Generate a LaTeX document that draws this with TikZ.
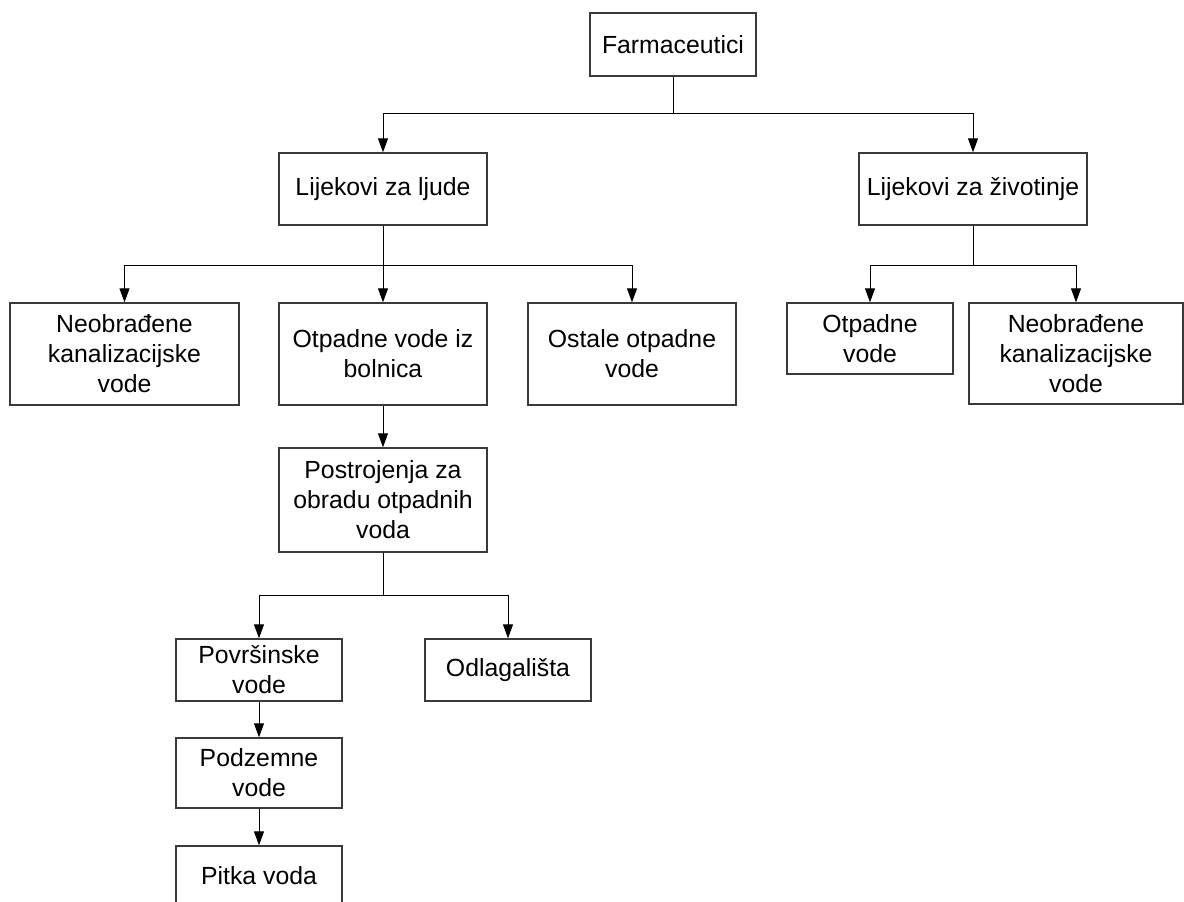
\documentclass[tikz,border=0pt]{standalone}
\usepackage{fontspec}
\setmainfont{Liberation Sans}
\usetikzlibrary{arrows.meta,positioning,calc}
\definecolor{fcInk}{HTML}{000000}
\definecolor{fcEdge}{HTML}{3A3A3A}
\tikzset{
  box/.style     ={draw=fcEdge,line width=0.7pt,fill=white,inner sep=0pt,
                   align=center,font=\fontsize{12.4pt}{15pt}\selectfont},
  flow/.style    ={-{Triangle[length=7pt,width=5pt]},fcInk,line width=0.5pt},
  tie/.style     ={fcInk,line width=0.5pt},
}
\begin{document}
\begin{tikzpicture}[x=0.5pt,y=-0.5pt]
\useasboundingbox (0,0) rectangle (1184,901);
\clip (0,0) rectangle (1184,901);

% top
\node[box,minimum width=83pt,minimum height=31.5pt] (farm) at (673,44.5) {Farmaceutici};
\node[box,minimum width=104pt,minimum height=36pt] (ljude) at (383,189) {Lijekovi za ljude};
\node[box,minimum width=114pt,minimum height=36pt] (zivot) at (973,189) {Lijekovi za životinje};

% second row
\node[box,minimum width=114.5pt,minimum height=51pt] (neoL) at (124.5,354) {Neobrađene\\kanalizacijske\\vode};
\node[box,minimum width=104pt,minimum height=51pt] (bolnica) at (383,354) {Otpadne vode iz\\bolnica};
\node[box,minimum width=104pt,minimum height=51pt] (ostale) at (632,354) {Ostale otpadne\\vode};
\node[box,minimum width=83pt,minimum height=35.5pt] (otpadne) at (870,338.5) {Otpadne\\vode};
\node[box,minimum width=107pt,minimum height=50.5pt] (neoR) at (1076,353.5) {Neobrađene\\kanalizacijske\\vode};

% treatment branch
\node[box,minimum width=104pt,minimum height=52pt] (postr) at (383,500) {Postrojenja za\\obradu otpadnih\\voda};
\node[box,minimum width=83pt,minimum height=31pt] (povrs) at (259,670) {Površinske\\vode};
\node[box,minimum width=83pt,minimum height=31pt] (odlag) at (508,670) {Odlagališta};
\node[box,minimum width=83pt,minimum height=35pt] (podz) at (259,773) {Podzemne\\vode};
\node[box,minimum width=83pt,minimum height=29.5pt] (pitka) at (259,875.5) {Pitka voda};

% junctions
\coordinate (jTop) at (673,113);
\coordinate (jLjude) at (383,265);
\coordinate (jZivot) at (973,265);
\coordinate (jPostr) at (383,595);

% connectors
\draw[tie] (farm.south) -- (jTop);
\draw[flow] (jTop) -| (ljude.north);
\draw[flow] (jTop) -| (zivot.north);

\draw[tie] (ljude.south) -- (jLjude);
\draw[flow] (jLjude) -| (neoL.north);
\draw[flow] (jLjude) -- (bolnica.north);
\draw[flow] (jLjude) -| (ostale.north);

\draw[tie] (zivot.south) -- (jZivot);
\draw[flow] (jZivot) -| (otpadne.north);
\draw[flow] (jZivot) -| (neoR.north);

\draw[flow] (bolnica.south) -- (postr.north);
\draw[tie] (postr.south) -- (jPostr);
\draw[flow] (jPostr) -| (povrs.north);
\draw[flow] (jPostr) -| (odlag.north);
\draw[flow] (povrs.south) -- (podz.north);
\draw[flow] (podz.south) -- (pitka.north);
\end{tikzpicture}
\end{document}
